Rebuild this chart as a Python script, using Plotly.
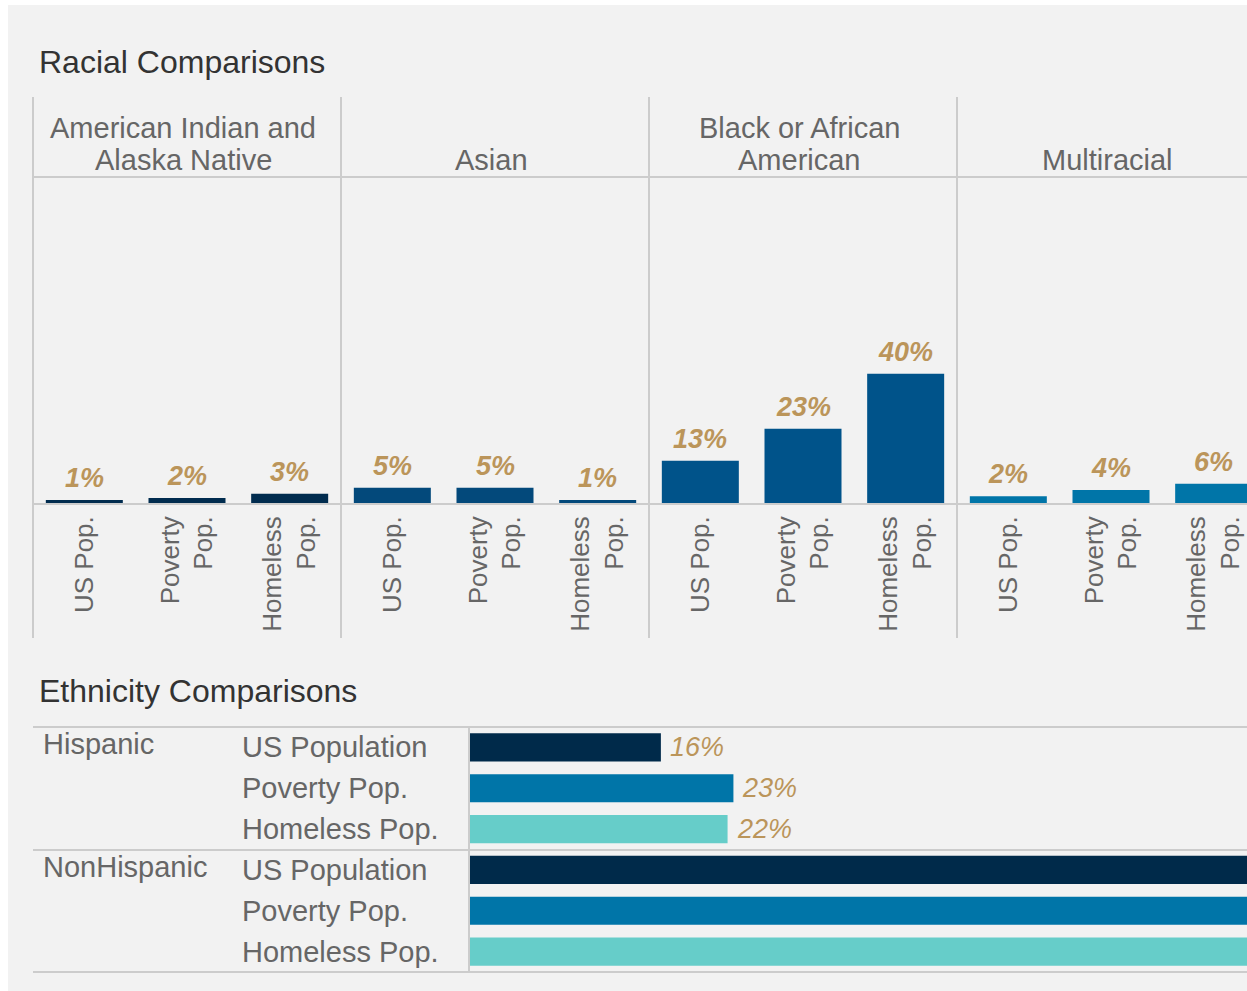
import plotly.graph_objects as go

# ---------------- data ----------------
races = ["American Indian and<br>Alaska Native", "Asian", "Black or African<br>American", "Multiracial"]
pop_groups = ["US Pop.", "Poverty Pop.", "Homeless Pop."]
pop_tick_labels = ["US Pop.", "Poverty<br>Pop.", "Homeless<br>Pop."]
aian_vals = [1.2, 1.8, 3.1]
asian_vals = [5.0, 5.0, 1.2]
black_vals = [13.2, 23.0, 39.8]
multi_vals = [2.4, 4.3, 6.2]
race_colors = ["#012c4f", "#03497b", "#00538a", "#0075a8"]

eth_groups = ["Hispanic", "NonHispanic"]
eth_rows = ["US Population", "Poverty Pop.", "Homeless Pop."]
hispanic_vals = [16.4, 22.6, 22.1]
nonhispanic_vals = [83.6, 77.4, 77.9]
eth_colors = ["#002a4a", "#0075a8", "#66cdc9"]

# ---------------- geometry helpers ----------------
W, H = 1247, 991
def px(x):
    return x / W
def py(y):
    return 1 - y / H

GOLD = "#bb955a"
GRAY_TXT = "#666666"
LINE = "#cccccc"
FONT = "Liberation Sans, Arial, sans-serif"

fig = go.Figure()
layout = dict(
    width=W, height=H, margin=dict(l=0, r=0, t=0, b=0),
    paper_bgcolor="white", plot_bgcolor="rgba(0,0,0,0)",
    showlegend=False, font=dict(family=FONT, color=GRAY_TXT),
    bargap=0.25,
)

shapes = []
annotations = []

# background panel
shapes.append(dict(type="rect", xref="paper", yref="paper", x0=px(8), x1=1, y0=0, y1=py(5),
                   fillcolor="#f2f2f2", line=dict(width=0), layer="below"))

# ---------------- racial panels ----------------
panel_left = 33
panel_w = 308
all_vals = [aian_vals, asian_vals, black_vals, multi_vals]
for i, (race, vals) in enumerate(zip(races, all_vals)):
    n = i + 1
    xa = "x" if n == 1 else f"x{n}"
    ya = "y" if n == 1 else f"y{n}"
    x0p = panel_left + panel_w * i
    x1p = min(x0p + panel_w, W)
    span = (x1p - x0p) / (panel_w / 3.0)
    fig.add_trace(go.Bar(x=pop_groups, y=vals, xaxis=xa, yaxis=ya, width=0.75,
                         marker=dict(color=race_colors[i], line=dict(width=0)),
                         hoverinfo="skip"))
    layout[f"xaxis{'' if n == 1 else n}"] = dict(
        domain=[px(x0p), px(x1p)], anchor=ya, type="category",
        range=[-0.5, -0.5 + span], showgrid=False, zeroline=False, showline=False,
        tickmode="array", tickvals=pop_groups, ticktext=pop_tick_labels,
        tickangle=-90, ticks="", ticklabelstandoff=6,
        tickfont=dict(family=FONT, size=26, color=GRAY_TXT),
    )
    layout[f"yaxis{'' if n == 1 else n}"] = dict(
        domain=[py(504), py(177)], anchor=xa, range=[0, 100], visible=False,
    )
    for g, v in zip(pop_groups, vals):
        annotations.append(dict(xref=xa, yref=ya, x=g, y=v, text=f"{round(v)}%",
                                showarrow=False, yanchor="bottom", yshift=5,
                                font=dict(family=FONT, size=27, color=GOLD, weight="bold", style="italic")))
    # header lines (bottom aligned, 32px line spacing)
    lines = race.split("<br>")
    for k, ln in enumerate(reversed(lines)):
        annotations.append(dict(xref="paper", yref="paper", x=px(x0p + panel_w / 2) - px(4),
                                y=py(160 - 32 * k), text=ln, showarrow=False,
                                xanchor="center", yanchor="middle",
                                font=dict(family=FONT, size=29, color=GRAY_TXT)))
    shapes.append(dict(type="line", xref="paper", yref="paper", x0=px(x0p), x1=px(x0p),
                       y0=py(638), y1=py(97), line=dict(color=LINE, width=2)))

# header line and baseline
for yy in (177, 504):
    shapes.append(dict(type="line", xref="paper", yref="paper", x0=px(33), x1=1,
                       y0=py(yy), y1=py(yy), line=dict(color=LINE, width=2)))

annotations.append(dict(xref="paper", yref="paper", x=px(37), y=py(62), text="Racial Comparisons",
                        showarrow=False, xanchor="left", yanchor="middle",
                        font=dict(family=FONT, size=32, color="#333333")))

# ---------------- ethnicity ----------------
cats, vals, cols = [], [], []
for g, gv in zip(eth_groups, [hispanic_vals, nonhispanic_vals]):
    for r, v, c in zip(eth_rows, gv, eth_colors):
        cats.append(f"{g} | {r}")
        vals.append(v)
        cols.append(c)

fig.add_trace(go.Bar(x=vals, y=cats, orientation="h", xaxis="x5", yaxis="y5", width=0.69,
                     marker=dict(color=cols, line=dict(width=0)), hoverinfo="skip"))
x_max = (W - 469) / 11.7
layout["xaxis5"] = dict(domain=[px(469), 1], anchor="y5", range=[0, x_max], visible=False)
layout["yaxis5"] = dict(domain=[py(972), py(727)], anchor="x5", type="category",
                        categoryorder="array", categoryarray=cats,
                        range=[len(cats) - 0.5, -0.5], visible=False)

for cat, v in zip(cats, vals):
    if cat.startswith("Hispanic"):
        annotations.append(dict(xref="x5", yref="y5", x=v, y=cat, text=f"{round(v)}%",
                                showarrow=False, xanchor="left", xshift=7,
                                font=dict(family=FONT, size=27, color=GOLD, style="italic")))
    annotations.append(dict(xref="paper", yref="y5", x=px(240), y=cat, text=cat.split(" | ")[1],
                            showarrow=False, xanchor="left",
                            font=dict(family=FONT, size=29, color=GRAY_TXT)))
for g in eth_groups:
    first = f"{g} | {eth_rows[0]}"
    annotations.append(dict(xref="paper", yref="y5", x=px(41), y=first, text=g,
                            showarrow=False, xanchor="left", yshift=3,
                            font=dict(family=FONT, size=29, color=GRAY_TXT)))

for yy in (727, 850, 972):
    shapes.append(dict(type="line", xref="paper", yref="paper", x0=px(33), x1=1,
                       y0=py(yy), y1=py(yy), line=dict(color=LINE, width=2)))
shapes.append(dict(type="line", xref="paper", yref="paper", x0=px(469), x1=px(469),
                   y0=py(972), y1=py(727), line=dict(color=LINE, width=2)))

annotations.append(dict(xref="paper", yref="paper", x=px(37), y=py(691), text="Ethnicity Comparisons",
                        showarrow=False, xanchor="left", yanchor="middle",
                        font=dict(family=FONT, size=32, color="#333333")))

layout["shapes"] = shapes
layout["annotations"] = annotations
fig.update_layout(**layout)
fig.write_html("out.html", config={"displayModeBar": False},
               post_script="document.body.style.margin='0';document.body.style.overflow='hidden';")
